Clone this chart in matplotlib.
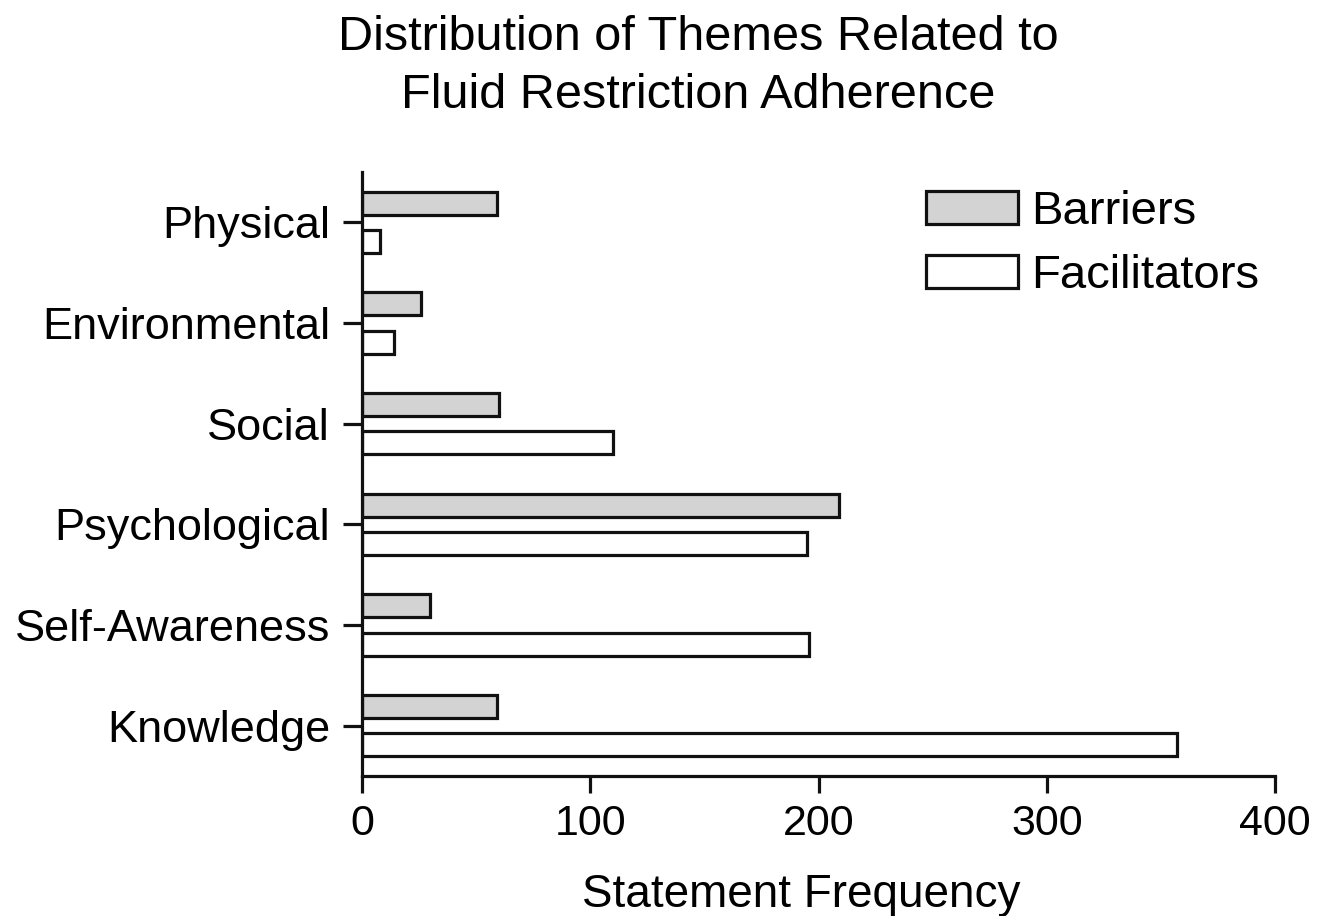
import matplotlib
matplotlib.use("Agg")
import matplotlib.pyplot as plt
import numpy as np

# data
themes = ["Knowledge", "Self-Awareness", "Psychological", "Social", "Environmental", "Physical"]
barriers = [59, 30, 209, 60, 26, 59]
facilitators = [357, 196, 195, 110, 14, 8]
x_ticks = [0, 100, 200, 300, 400]

plt.rcParams["font.family"] = ["Liberation Sans", "DejaVu Sans"]

fig = plt.figure(figsize=(13.28, 9.16), dpi=100)
ax = fig.add_axes([0.2726, 0.1528, 0.6875, 0.6594])

pos = np.arange(len(themes))
h = 0.23
off = 0.19
ax.barh(pos + off, barriers, height=h, color="#d3d3d3", edgecolor="#111111",
        linewidth=2.3, label="Barriers")
ax.barh(pos - off, facilitators, height=h, color="white", edgecolor="#111111",
        linewidth=2.3, label="Facilitators")

ax.set_xlim(0, 400)
ax.set_ylim(-0.5, 5.5)
ax.set_xticks(x_ticks)
ax.set_yticks(pos)
ax.set_yticklabels(themes)

for s in ["top", "right"]:
    ax.spines[s].set_visible(False)
for s in ["left", "bottom"]:
    ax.spines[s].set_linewidth(2.3)
    ax.spines[s].set_color("#111111")

ax.tick_params(axis="y", length=14, width=2.3, pad=9, labelsize=32.5, color="#111111")
ax.tick_params(axis="x", length=12, width=2.3, pad=8, labelsize=31, color="#111111")

ax.set_xlabel("Statement Frequency", fontsize=33)
ax.xaxis.set_label_coords((801 - 362) / 913, -0.16)

fig.text(0.526, 1 - 50 / 916, "Distribution of Themes Related to",
         ha="center", va="baseline", fontsize=35)
fig.text(0.526, 1 - 108 / 916, "Fluid Restriction Adherence",
         ha="center", va="baseline", fontsize=35)

ax.legend(loc="upper left",
          bbox_to_anchor=((926 - 362) / 913, 1 - (190 - 172) / 604),
          frameon=False, fontsize=34, handlelength=1.95, handleheight=0.7,
          handletextpad=0.28, labelspacing=0.42, borderpad=0, borderaxespad=0)

fig.savefig("out.png", dpi=100)
